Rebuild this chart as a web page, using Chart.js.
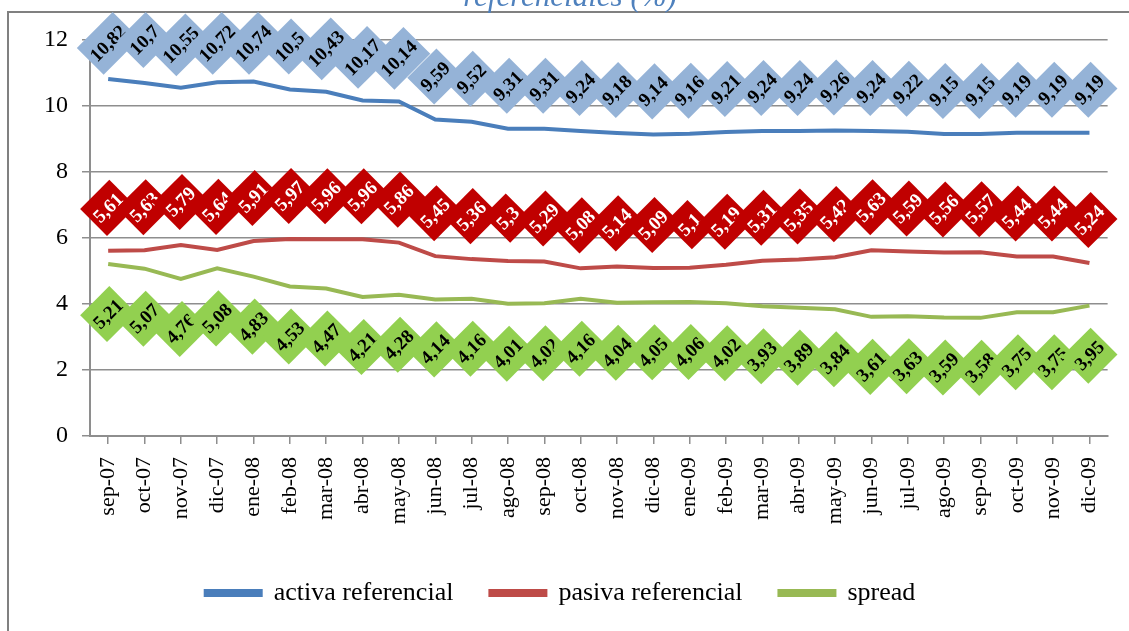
<!DOCTYPE html>
<html>
<head>
<meta charset="utf-8">
<script src="https://cdn.jsdelivr.net/npm/chart.js@4"></script>
<style>
  html, body { margin: 0; padding: 0; background: #ffffff; }
  canvas { display: block; }
</style>
</head>
<body>
<canvas id="chart" width="1129" height="631"></canvas>
<script>
const months = ['sep-07', 'oct-07', 'nov-07', 'dic-07', 'ene-08', 'feb-08', 'mar-08', 'abr-08', 'may-08',
    'jun-08', 'jul-08', 'ago-08', 'sep-08', 'oct-08', 'nov-08', 'dic-08', 'ene-09', 'feb-09', 'mar-09',
    'abr-09', 'may-09', 'jun-09', 'jul-09', 'ago-09', 'sep-09', 'oct-09', 'nov-09', 'dic-09'];

const activa = [10.82, 10.7, 10.55, 10.72, 10.74, 10.5, 10.43, 10.17, 10.14, 9.59, 9.52, 9.31, 9.31, 9.24,
    9.18, 9.14, 9.16, 9.21, 9.24, 9.24, 9.26, 9.24, 9.22, 9.15, 9.15, 9.19, 9.19, 9.19];
const pasiva = [5.61, 5.63, 5.79, 5.64, 5.91, 5.97, 5.96, 5.96, 5.86, 5.45, 5.36, 5.3, 5.29, 5.08,
    5.14, 5.09, 5.1, 5.19, 5.31, 5.35, 5.42, 5.63, 5.59, 5.56, 5.57, 5.44, 5.44, 5.24];
const spread = [5.21, 5.07, 4.76, 5.08, 4.83, 4.53, 4.47, 4.21, 4.28, 4.14, 4.16, 4.01, 4.02, 4.16,
    4.04, 4.05, 4.06, 4.02, 3.93, 3.89, 3.84, 3.61, 3.63, 3.59, 3.58, 3.75, 3.75, 3.95];

const yTicks = [0, 2, 4, 6, 8, 10, 12];

const lineColours = ['#4A7EBB', '#BE4B48', '#98B954'];
const boxColours = ['#95B3D7', '#C00000', '#92D050'];
const textColours = ['#000000', '#ffffff', '#000000'];
const labelOffsets = [-43, -43, 50];

const serif = '"Liberation Serif", "Times New Roman", serif';
const gridGrey = '#8e8e8e';
const frameTop = 12;

// frame + cut-off title
const framePlugin = {
    id: 'frame',
    beforeDraw(chart) {
        const ctx = chart.ctx;
        ctx.save();
        ctx.strokeStyle = '#808080';
        ctx.lineWidth = 2;
        ctx.beginPath();
        ctx.moveTo(8, 631);
        ctx.lineTo(8, frameTop);
        ctx.lineTo(1129, frameTop);
        ctx.stroke();
        ctx.fillStyle = '#4F81BD';
        ctx.font = 'italic 31px ' + serif;
        ctx.textAlign = 'center';
        ctx.textBaseline = 'alphabetic';
        ctx.fillText('referenciales (%)', 570, 6);
        ctx.restore();
    }
};

// rotated label boxes (-45deg), kept inside the frame
const labelPlugin = {
    id: 'rotLabels',
    afterDatasetsDraw(chart) {
        const ctx = chart.ctx;
        const boxH = 38;
        ctx.save();
        ctx.font = 'bold 19px ' + serif;
        ctx.textAlign = 'center';
        ctx.textBaseline = 'middle';
        chart.data.datasets.forEach((ds, i) => {
            const meta = chart.getDatasetMeta(i);
            meta.data.forEach((pt, j) => {
                const txt = String(ds.data[j]).replace('.', ',');
                const boxW = ctx.measureText(txt).width + 8;
                const reach = (boxW + boxH) / 2 * Math.SQRT1_2;
                let y = pt.y + labelOffsets[i];
                if (y - reach < frameTop) y = frameTop + reach;
                ctx.save();
                ctx.translate(pt.x, y);
                ctx.rotate(-Math.PI / 4);
                ctx.fillStyle = boxColours[i];
                ctx.fillRect(-boxW / 2, -boxH / 2, boxW, boxH);
                ctx.fillStyle = textColours[i];
                ctx.fillText(txt, 0, 1);
                ctx.restore();
            });
        });
        ctx.restore();
    }
};

function makeSeries(label, data, i) {
    return {
        label: label,
        data: data,
        borderColor: lineColours[i],
        backgroundColor: lineColours[i],
        borderWidth: 4,
        pointRadius: 0,
        tension: 0
    };
}

new Chart(document.getElementById('chart'), {
    type: 'line',
    data: {
        labels: months,
        datasets: [
            makeSeries('activa referencial', activa, 0),
            makeSeries('pasiva referencial', pasiva, 1),
            makeSeries('spread', spread, 2)
        ]
    },
    options: {
        responsive: false,
        animation: false,
        devicePixelRatio: 1,
        layout: { padding: { top: 40, right: 8, bottom: 15, left: 0 } },
        plugins: {
            legend: {
                position: 'bottom',
                labels: {
                    boxWidth: 55,
                    boxHeight: 4,
                    padding: 37,
                    color: '#000000',
                    font: { family: serif, size: 26 }
                }
            },
            tooltip: { enabled: false }
        },
        scales: {
            x: {
                offset: true,
                afterFit(scale) { scale.height = 107; },
                grid: { drawOnChartArea: false, tickLength: 8, color: gridGrey, lineWidth: 1.5 },
                border: { color: gridGrey, width: 2 },
                ticks: {
                    autoSkip: false,
                    maxRotation: 90,
                    minRotation: 90,
                    padding: 13,
                    color: '#000000',
                    font: { family: serif, size: 22 }
                }
            },
            y: {
                min: 0,
                max: 12,
                afterFit(scale) { scale.width = 90; },
                afterBuildTicks(scale) { scale.ticks = yTicks.map(v => ({ value: v })); },
                grid: { tickLength: 8, color: gridGrey, lineWidth: 1.5 },
                border: { color: gridGrey, width: 2 },
                ticks: {
                    padding: 14,
                    color: '#000000',
                    font: { family: serif, size: 24 }
                }
            }
        }
    },
    plugins: [framePlugin, labelPlugin]
});
</script>
</body>
</html>
